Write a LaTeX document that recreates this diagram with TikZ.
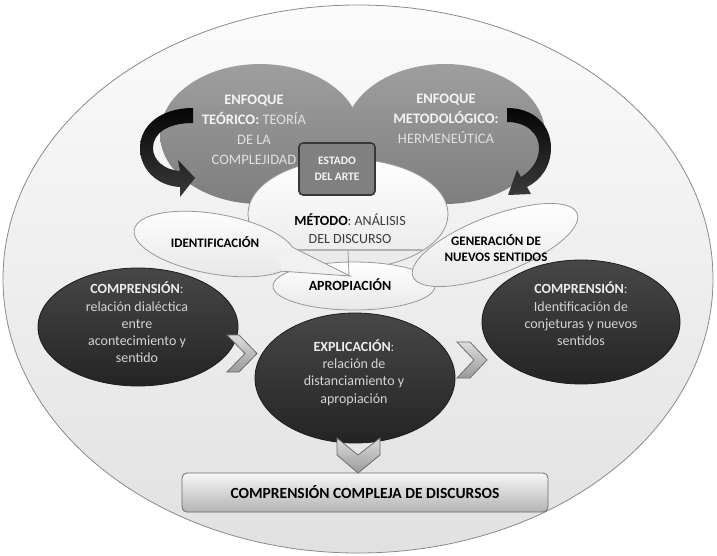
\documentclass[tikz,border=0pt]{standalone}
\usepackage{fontspec}
\setmainfont{Carlito}
\usetikzlibrary{shapes.geometric}
\newcommand{\myfs}[2]{\fontsize{#1}{#2}\selectfont}
\definecolor{bgtop}{HTML}{FBFBFB}
\definecolor{bgbot}{HTML}{E1E1E1}
\definecolor{bgline}{HTML}{8A8A8A}
\definecolor{grtop}{HTML}{9E9E9E}
\definecolor{grbot}{HTML}{7E7E7E}
\definecolor{grtxtb}{HTML}{F4F4F4}
\definecolor{grtxt}{HTML}{E0E0E0}
\definecolor{dktop}{HTML}{474747}
\definecolor{dkbot}{HTML}{242424}
\definecolor{dkline}{HTML}{1C1C1C}
\definecolor{dktxtb}{HTML}{EEEEEE}
\definecolor{dktxt}{HTML}{D4D4D4}
\definecolor{wttop}{HTML}{FFFFFF}
\definecolor{wtbot}{HTML}{E8E8E8}
\definecolor{wtline}{HTML}{979797}
\definecolor{mtxt}{HTML}{3C3C3C}
\definecolor{chtop}{HTML}{DCDCDC}
\definecolor{chbot}{HTML}{9A9A9A}
\definecolor{chline}{HTML}{6C6C6C}
\definecolor{boxtop}{HTML}{F7F7F7}
\definecolor{boxbot}{HTML}{B3B3B3}
\definecolor{estfill}{HTML}{808080}
\definecolor{estline}{HTML}{383838}
\definecolor{arrtop}{HTML}{050505}
\definecolor{arrbot}{HTML}{3A3A3A}
\begin{document}
\begin{tikzpicture}[x=1pt,y=-1pt,
  grayell/.style={ellipse, inner sep=0pt, top color=grtop, bottom color=grbot, draw=none, minimum width=200pt, minimum height=140pt},
  darkell/.style={ellipse, inner sep=0pt, top color=dktop, bottom color=dkbot, draw=dkline, line width=0.8pt},
  whiteell/.style={ellipse, inner sep=0pt, top color=wttop, bottom color=wtbot, draw=wtline, line width=0.8pt},
  chevron/.style={top color=chtop, bottom color=chbot, draw=chline, line width=0.8pt, line join=miter},
  curvarrow/.style={top color=arrtop, bottom color=arrbot, draw=none},
  txt/.style={inner sep=0pt, align=center},
  graytxt/.style={txt, text=grtxt, font=\myfs{14.5}{20}},
  darktxt/.style={txt, text=dktxt, font=\myfs{14}{17.3}},
  whitetxt/.style={txt, text=black, font=\bfseries\myfs{14}{17}}
]
\useasboundingbox (0,0) rectangle (717,555);

% outer frame
\node[ellipse, inner sep=0pt, minimum width=710pt, minimum height=548pt,
      top color=bgtop, bottom color=bgbot, draw=bgline, line width=0.8pt] (marco) at (358,279) {};

% two gray approach ellipses
\node[grayell] (teorico) at (260,134) {};
\node[grayell] (metodol) at (445,134) {};
\node[graytxt] (teoricot) at (254,130)
  {\textbf{\color{grtxtb}ENFOQUE}\\\textbf{\color{grtxtb}TEÓRICO:} TEORÍA\\DE LA\\COMPLEJIDAD};
\node[graytxt] (metodolt) at (446,119)
  {\textbf{\color{grtxtb}ENFOQUE}\\\textbf{\color{grtxtb}METODOLÓGICO:}\\HERMENEÚTICA};

% curved black arrows
\path[curvarrow] (193,108) .. controls (160,108) and (140,126) .. (140,148)
  .. controls (140,170) and (158,186) .. (180,187) -- (180,197) -- (195,178) -- (178,160) -- (180,171)
  .. controls (164,170) and (153,160) .. (153,148)
  .. controls (153,133) and (168,123) .. (193,123) -- cycle;
\path[curvarrow] (507,108) .. controls (535,108) and (551,126) .. (551,148)
  .. controls (551,166) and (541,180) .. (527,187) -- (531,194) -- (508,195) -- (517,170) -- (521,177)
  .. controls (532,170) and (539,160) .. (539,148)
  .. controls (539,133) and (526,122) .. (507,122) -- cycle;

% method ellipse and state of the art
\node[whiteell, minimum width=200pt, minimum height=110pt] (metodo) at (348,214) {};
\node[draw=estline, fill=estfill, line width=1.6pt, rounded corners=4pt,
      minimum width=76pt, minimum height=52pt, inner sep=0pt, align=center,
      text=grtxtb, font=\bfseries\myfs{11.5}{16}] (estado) at (337,169) {ESTADO\\DEL ARTE};
\node[txt, text=mtxt, font=\myfs{14}{18}] (metodot) at (350,229)
  {\textbf{\color{black}MÉTODO}: ANÁLISIS\\DEL DISCURSO};

% apropiacion
\node[whiteell, minimum width=162pt, minimum height=48pt] (apro) at (354,286) {};
\draw[line width=2.5pt, draw=black!30] (293,250) -- (423,250);
\draw[wtline, line width=0.8pt] (348,251) -- (349,276);

% identificacion callout
\node[whiteell, minimum width=164pt, minimum height=60pt, rotate=-10] (ident) at (215,244) {};
\coordinate (itip) at (350,276);
\fill[wtbot!60] (292.7,247.3) -- (itip) -- (282.3,271.2) -- (278,258) -- cycle;
\draw[wtline, line width=0.8pt] (292.7,247.3) -- (itip) -- (282.3,271.2);
\node[whitetxt, font=\bfseries\myfs{13}{15}] (identt) at (215,242) {IDENTIFICACIÓN};
\node[whitetxt] (aprot) at (350,285) {APROPIACIÓN};

% generacion
\node[whiteell, minimum width=176pt, minimum height=58pt, rotate=21] (gen) at (495,245) {};
\node[whitetxt, font=\bfseries\myfs{13}{16}] (gent) at (496,248) {GENERACIÓN DE\\NUEVOS SENTIDOS};

% dark ellipses
\node[darkell, minimum width=200pt, minimum height=118pt] (comp1) at (138,327) {};
\node[darkell, minimum width=200pt, minimum height=130pt] (expl) at (355,378) {};
\node[darkell, minimum width=198pt, minimum height=124pt] (comp2) at (581,322) {};
\node[darktxt] (comp1t) at (137,322.5)
  {\textbf{\color{dktxtb}COMPRENSIÓN}:\\relación dialéctica\\entre\\acontecimiento y\\sentido};
\node[darktxt] (explt) at (354,372.5)
  {\textbf{\color{dktxtb}EXPLICACIÓN}:\\relación de\\distanciamiento y\\apropiación};
\node[darktxt] (comp2t) at (581,314)
  {\textbf{\color{dktxtb}COMPRENSIÓN}:\\Identificación de\\conjeturas y nuevos\\sentidos};

% final box
\node[draw=chline, line width=0.8pt, top color=boxtop, bottom color=boxbot, rounded corners=5pt,
      minimum width=366pt, minimum height=39pt, inner sep=0pt,
      font=\bfseries\myfs{15.5}{18}] (final) at (365,492.5) {COMPRENSIÓN COMPLEJA DE DISCURSOS};

% chevrons
\path[chevron] (227,335) -- (239,335) -- (257,353.5) -- (239,372) -- (227,372) -- (245,353.5) -- cycle;
\path[chevron] (457,342) -- (470,342) -- (487,360) -- (470,378) -- (457,378) -- (474,360) -- cycle;
\path[chevron] (337,438) -- (358,455) -- (380,438) -- (380,455) -- (358,473) -- (337,455) -- cycle;
\end{tikzpicture}
\end{document}
